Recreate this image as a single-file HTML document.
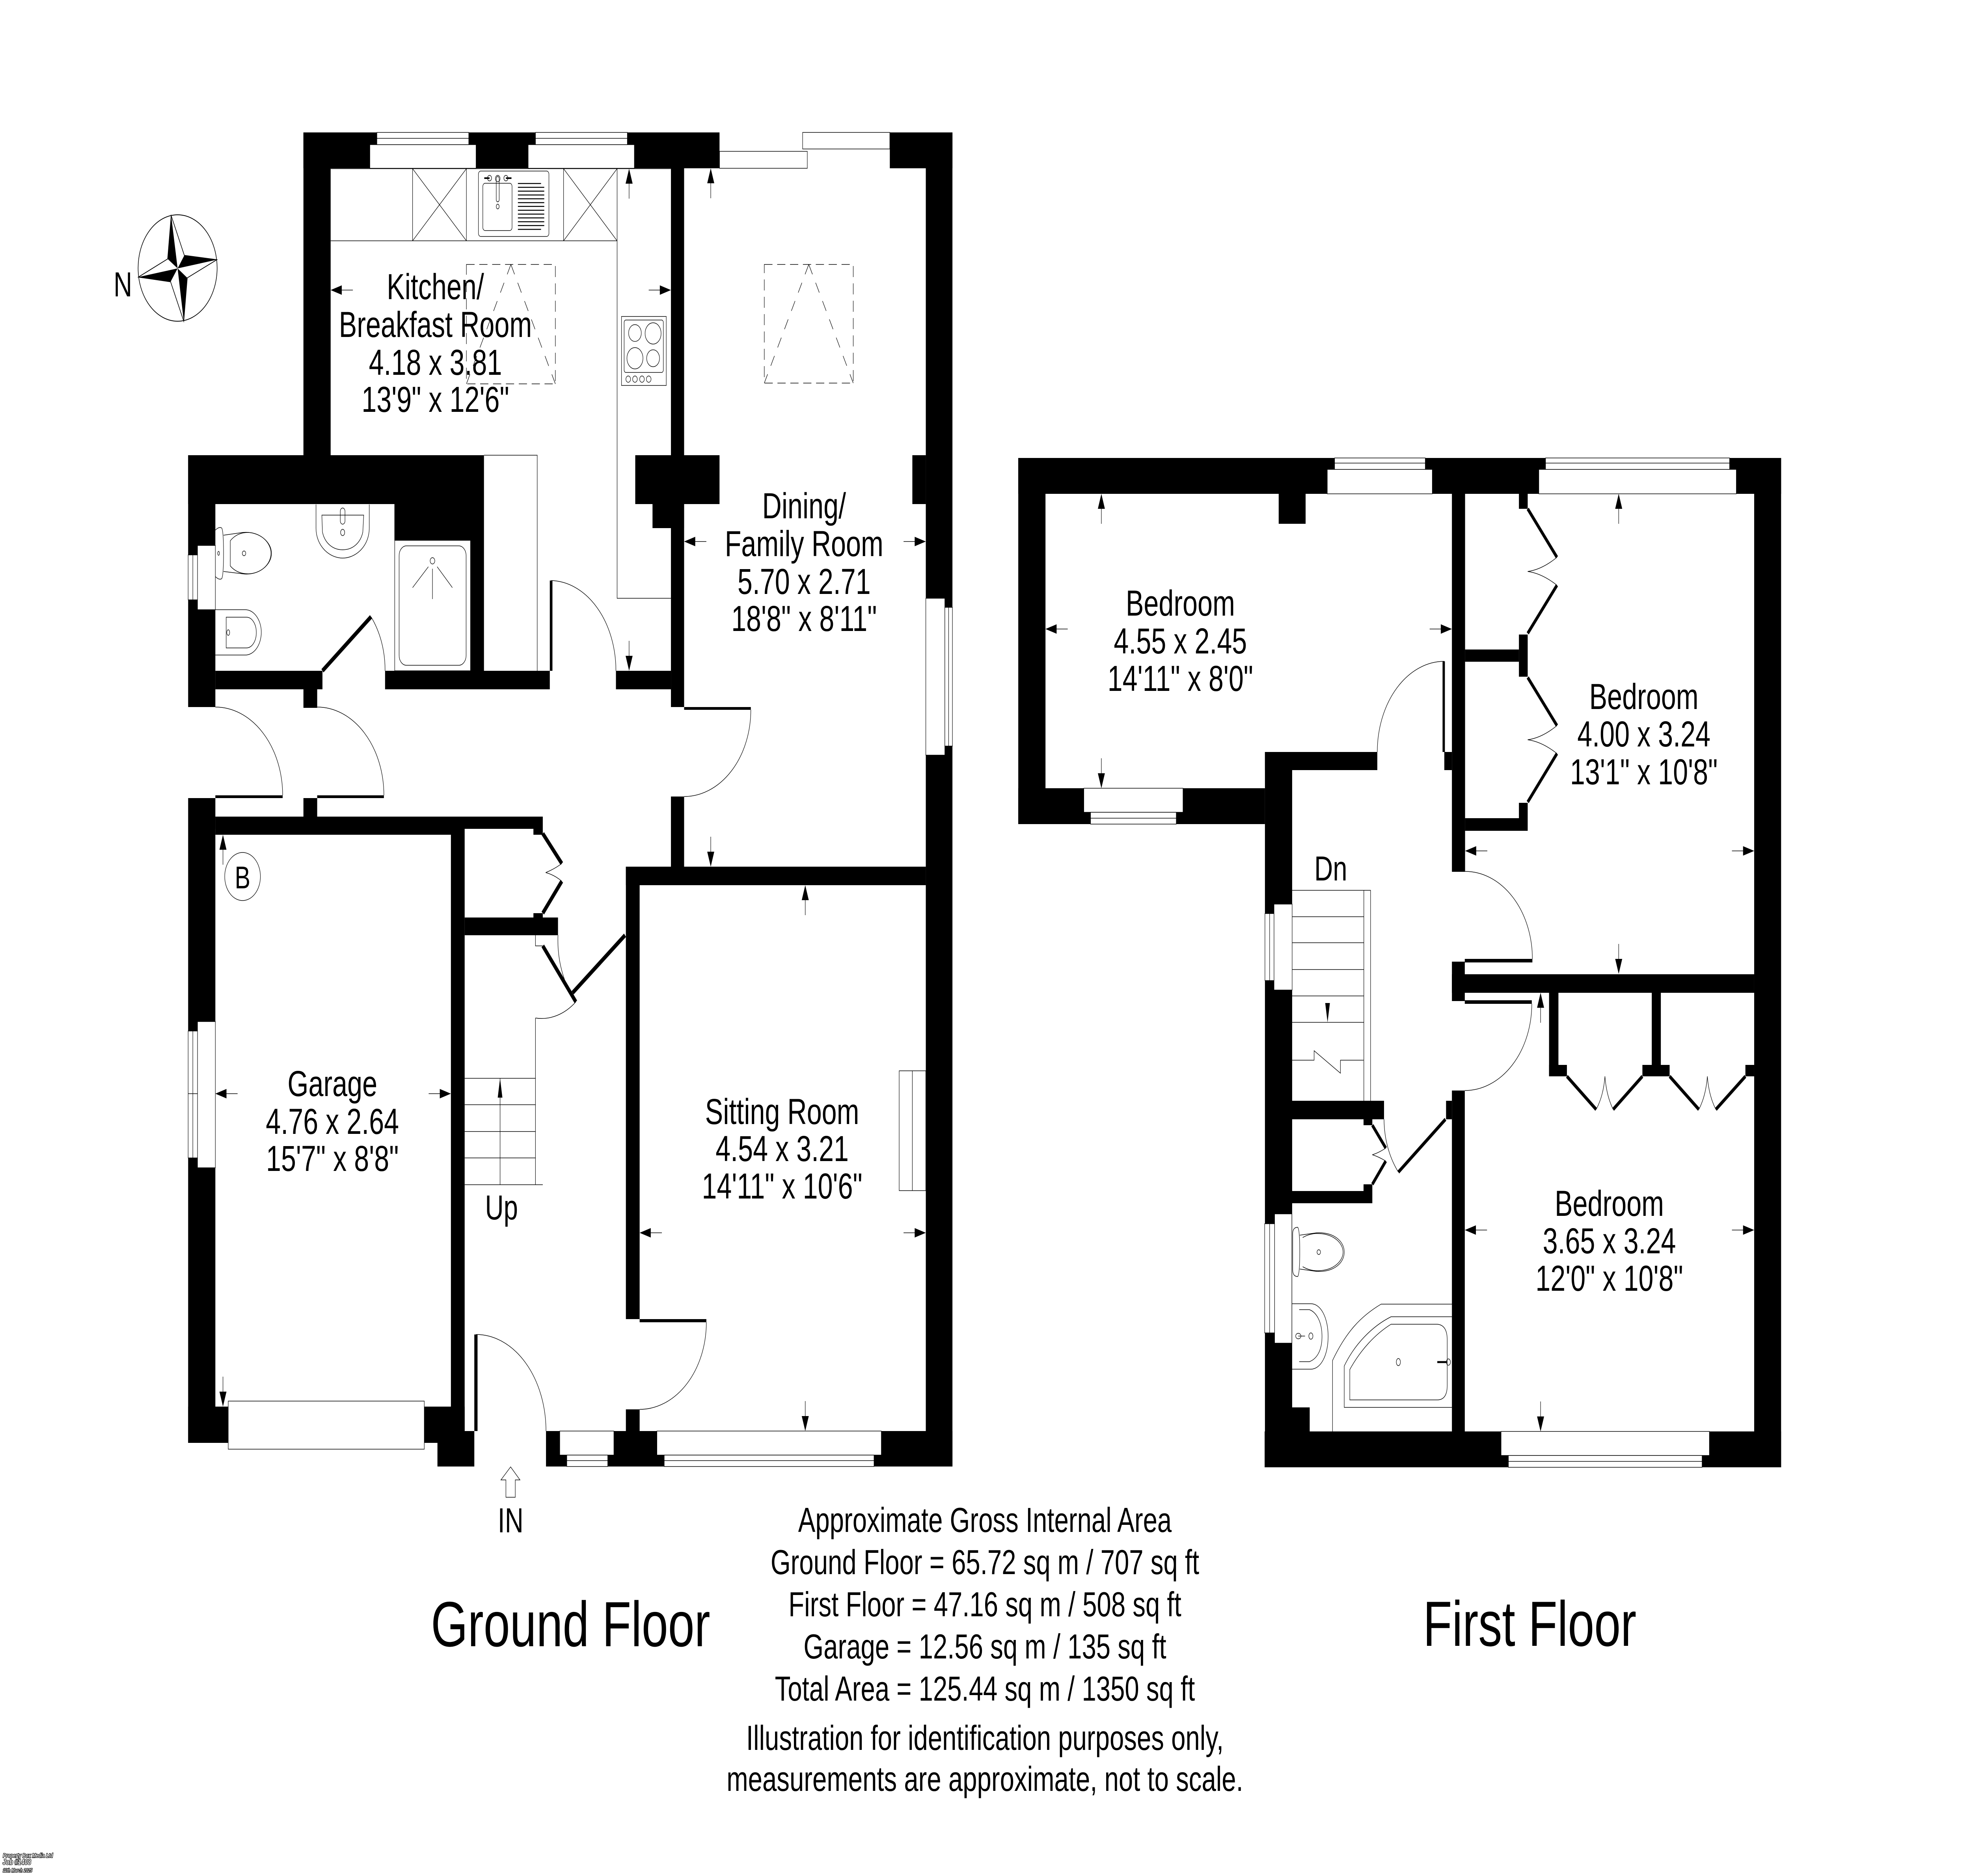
<!DOCTYPE html>
<html><head><meta charset="utf-8"><title>Floor Plan</title>
<style>html,body{margin:0;padding:0;background:#fff;width:100%;height:100%;overflow:hidden}svg{display:block;width:100vw;height:100vh}text{font-family:"Liberation Sans",Arial,sans-serif;fill:#000}</style></head>
<body>
<svg xmlns="http://www.w3.org/2000/svg" viewBox="0 0 6736 4760" preserveAspectRatio="none">
<defs>
<g id="a"><line x1="-76" y1="0" x2="-30" y2="0" stroke="#000" stroke-width="1.5"/><polygon points="0,0 -38,-12 -38,12" fill="#000"/></g>
</defs>
<rect width="6736" height="4760" fill="#fff"/>

<!-- GROUND FLOOR WALLS -->
<g fill="#000">
<rect x="1037" y="336" width="1422" height="91"/>
<rect x="1037" y="336" width="93" height="819"/>
<rect x="2293" y="427" width="45" height="728"/>
<rect x="2171" y="1155" width="288" height="124"/>
<rect x="2230" y="1279" width="108" height="61"/>
<rect x="2293" y="1279" width="45" height="515"/>
<rect x="3164" y="336" width="91" height="3385"/>
<rect x="3041" y="336" width="214" height="91"/>
<rect x="3118" y="1155" width="46" height="124"/>
<rect x="643" y="1155" width="1011" height="124"/>
<rect x="643" y="1155" width="93" height="639"/>
<rect x="1348" y="1279" width="306" height="92"/>
<rect x="1608" y="1371" width="46" height="331"/>
<rect x="736" y="1702" width="366" height="47"/>
<rect x="1316" y="1702" width="563" height="47"/>
<rect x="2105" y="1702" width="188" height="47"/>
<rect x="1037" y="1749" width="47" height="47"/>
<rect x="2293" y="2021" width="45" height="178"/>
<rect x="643" y="2025" width="93" height="1636"/>
<rect x="1037" y="2025" width="47" height="47"/>
<rect x="736" y="2072" width="1119" height="31"/>
<rect x="736" y="2072" width="852" height="46"/>
<rect x="1823" y="2103" width="32" height="15"/>
<rect x="1541" y="2118" width="47" height="1512"/>
<rect x="1588" y="2328" width="319" height="45"/>
<rect x="1823" y="2317" width="32" height="11"/>
<rect x="643" y="3569" width="137" height="92"/>
<rect x="1450" y="3569" width="138" height="92"/>
<rect x="1495" y="3631" width="126" height="90"/>
<rect x="1866" y="3631" width="1389" height="90"/>
<rect x="2139" y="2199" width="47" height="1148"/>
<rect x="2139" y="3576" width="47" height="55"/>
<rect x="2139" y="2199" width="1025" height="47"/>
<!-- door blades as rects -->
<rect x="2338" y="1794" width="228" height="7"/>
<rect x="736" y="2018" width="230" height="7"/>
<rect x="1084" y="2018" width="228" height="7"/>
<rect x="1879" y="1473" width="9" height="229"/>
<rect x="2186" y="3347" width="228" height="8"/>
<rect x="1621" y="3386" width="11" height="245"/>
</g>
<g stroke="#000" stroke-width="11" fill="none">
<line x1="1102" y1="1702" x2="1268" y2="1565"/>
<line x1="2136" y1="2373" x2="1957" y2="2519"/>
<line x1="1855" y1="2400" x2="1968" y2="2542"/>
<line x1="1855" y1="2115" x2="1920" y2="2191"/>
<line x1="1920" y1="2236" x2="1855" y2="2317"/>
</g>

<!-- GROUND WINDOWS -->
<g fill="#fff" stroke="#000" stroke-width="1.5">
<rect x="1264" y="367" width="363" height="60"/><rect x="1288" y="336" width="314" height="31"/><line x1="1288" y1="351" x2="1602" y2="351"/>
<rect x="1805" y="367" width="363" height="60"/><rect x="1830" y="336" width="314" height="31"/><line x1="1830" y1="351" x2="2144" y2="351"/>
<rect x="2459" y="384" width="300" height="43"/><rect x="2743" y="336" width="298" height="42"/>
<rect x="3164" y="1518" width="65" height="398"/><rect x="3229" y="1541" width="26" height="352"/><line x1="3242" y1="1541" x2="3242" y2="1893"/>
<rect x="675" y="1384" width="61" height="163"/><rect x="643" y="1408" width="32" height="114"/><line x1="659" y1="1408" x2="659" y2="1522"/>
<rect x="675" y="2592" width="61" height="371"/><rect x="643" y="2616" width="32" height="322"/><line x1="659" y1="2616" x2="659" y2="2938"/><line x1="643" y1="2775" x2="675" y2="2775"/>
<rect x="780" y="3555" width="670" height="122"/>
<rect x="1913" y="3631" width="185" height="61"/><rect x="1937" y="3692" width="140" height="29"/><line x1="1937" y1="3706" x2="2077" y2="3706"/>
<rect x="2245" y="3631" width="767" height="61"/><rect x="2270" y="3692" width="717" height="29"/><line x1="2270" y1="3706" x2="2987" y2="3706"/>
</g>

<!-- KITCHEN FIXTURES -->
<g fill="none" stroke="#000" stroke-width="1.5">
<path d="M1130,428H2293M1130,611H2109M2109,428V1518H2293"/>
<path d="M1410,428V611M1594,428V611M1926,428V611M1410,428L1594,611M1594,428L1410,611M1926,428L2109,611M2109,428L1926,611"/>
<rect x="1635" y="434" width="241" height="166" rx="8"/>
<rect x="1650" y="465" width="100" height="120" rx="8"/>
<rect x="1696" y="448" width="10" height="64" rx="5"/>
<circle cx="1701" cy="453" r="8"/><ellipse cx="1701" cy="524" rx="5" ry="6"/>
<circle cx="1673" cy="452" r="7"/><circle cx="1729" cy="452" r="7"/>
<path d="M1655,452H1673M1729,452H1748" stroke-width="4"/>
<path d="M1770,465.6H1849M1770,475.3H1860M1770,485H1860M1770,494.7H1860M1770,504.4H1860M1770,514.1H1860M1770,523.8H1860M1770,533.5H1860M1770,543.2H1860M1770,552.9H1860M1770,562.6H1860M1770,572.3H1860M1770,582H1849" stroke-width="2.5"/>
<rect x="2124" y="803" width="153" height="175"/>
<rect x="2133" y="812" width="134" height="133" rx="6"/>
<ellipse cx="2170" cy="845" rx="21.7" ry="21.4"/><ellipse cx="2232" cy="846" rx="27.4" ry="27"/>
<ellipse cx="2170" cy="909" rx="27.4" ry="27"/><ellipse cx="2232" cy="909" rx="22" ry="21.5"/>
<circle cx="2147" cy="962" r="8"/><circle cx="2170" cy="962" r="8"/><circle cx="2194" cy="962" r="8"/><circle cx="2217" cy="962" r="8"/>
<path d="M1654,1155H1836V1702"/>
</g>
<g fill="none" stroke="#000" stroke-width="1.5">
<rect x="1594" y="671" width="304" height="303" stroke-dasharray="28 16"/>
<path d="M1746,671L1594,974M1746,671L1898,974" stroke-dasharray="28 24"/>
<rect x="2612" y="671" width="304" height="301" stroke-dasharray="28 16"/>
<path d="M2764,671L2612,972M2764,671L2916,972" stroke-dasharray="28 24"/>
</g>

<!-- WC FIXTURES -->
<g fill="none" stroke="#000" stroke-width="1.5">
<path d="M736,1345Q750,1335 758,1340Q764,1350 764,1404Q764,1458 758,1468Q750,1473 736,1463"/>
<path d="M764,1358L830,1351C885,1347 928,1375 928,1404C928,1433 885,1461 830,1456L764,1450"/>
<path d="M787,1372Q810,1351 848,1351C895,1353 926,1378 926,1404C926,1430 895,1455 848,1456Q810,1456 787,1436Z"/>
<ellipse cx="834" cy="1404" rx="6" ry="6"/><ellipse cx="747" cy="1404" rx="3" ry="5"/>
<path d="M1080,1280V1340C1080,1385 1125,1416 1171,1416C1217,1416 1262,1385 1262,1340V1280"/>
<path d="M1100,1307H1243L1240,1350C1232,1378 1205,1395 1171,1395C1137,1395 1110,1378 1102,1350Z"/>
<rect x="1163" y="1289" width="16" height="41" rx="8"/><ellipse cx="1171" cy="1351" rx="7" ry="8"/>
<rect x="1349" y="1371" width="259" height="331"/>
<rect x="1364" y="1385" width="229" height="303" rx="25"/>
<ellipse cx="1478" cy="1423" rx="8" ry="8"/>
<path d="M1464,1438L1410,1491M1478,1443V1520M1494,1438L1546,1491"/>
<path d="M736,1547H838C870,1547 893,1575 893,1604C893,1635 870,1662 838,1662H736"/>
<path d="M773,1566H842C862,1566 876,1584 876,1605C876,1626 862,1644 842,1644H773Z"/>
<ellipse cx="780" cy="1605" rx="5" ry="7"/>
</g>

<!-- DOOR ARCS & STAIRS GROUND -->
<g fill="none" stroke="#000" stroke-width="1.5">
<path d="M1884,1473A226,229 0 0 1 2105,1702"/>
<path d="M2566,1801A228,220 0 0 1 2338,2021"/>
<path d="M736,1794A230,224 0 0 1 966,2018"/>
<path d="M1084,1794A228,224 0 0 1 1312,2018"/>
<path d="M1268,1565A214,214 0 0 1 1316,1702"/>
<path d="M2414,3355A228,221 0 0 1 2186,3576"/>
<path d="M1627,3386A239,245 0 0 1 1866,3631"/>
<path d="M1907,2373A229,229 0 0 0 1968,2542"/>
<path d="M1968,2542A183,183 0 0 1 1830,2583"/>
<path d="M1830,2373V2400H1855"/>
<path d="M1830,2583V3006"/>
<path d="M1588,2736H1830M1588,2803H1830M1588,2871H1830M1588,2938H1830M1588,3006H1855"/>
<path d="M1709,3006V2736"/>
<path d="M1920,2191Q1895,2205 1865,2214Q1895,2220 1920,2236"/>
<rect x="3073" y="2717" width="91" height="304"/><line x1="3118" y1="2717" x2="3118" y2="3021"/>
<ellipse cx="829" cy="2224" rx="61" ry="61"/>
<polygon points="1745,3722 1712,3755 1729,3755 1729,3799 1761,3799 1761,3755 1777,3755"/>
</g>
<polygon points="1709,2736 1701,2785 1717,2785" fill="#000"/>

<!-- COMPASS -->
<circle cx="607" cy="680" r="135" fill="none" stroke="#000" stroke-width="2"/>
<path d="M585,547L630,648L741,659L640,705L628,815L583,715L473,703L573,657Z" fill="#fff" stroke="#000" stroke-width="2"/>
<g fill="#000">
<polygon points="585,547 573,657 607,681"/>
<polygon points="741,659 630,648 607,681"/>
<polygon points="628,815 640,705 607,681"/>
<polygon points="473,703 583,715 607,681"/>
</g>

<!-- FIRST FLOOR WALLS -->
<g fill="#000">
<rect x="3480" y="1162" width="2607" height="91"/>
<rect x="3480" y="1162" width="93" height="929"/>
<rect x="3480" y="2000" width="843" height="91"/>
<rect x="4370" y="1253" width="92" height="76"/>
<rect x="4323" y="1908" width="384" height="46"/>
<rect x="4323" y="1908" width="93" height="1815"/>
<rect x="4962" y="1253" width="45" height="959"/>
<rect x="4936" y="1908" width="26" height="46"/>
<rect x="4930" y="1678" width="8" height="230"/>
<rect x="5191" y="1253" width="30" height="38"/>
<rect x="5191" y="1610" width="30" height="107"/>
<rect x="5007" y="1648" width="184" height="31"/>
<rect x="5191" y="2037" width="30" height="39"/>
<rect x="5007" y="2076" width="214" height="32"/>
<rect x="5995" y="1162" width="92" height="2561"/>
<rect x="4962" y="2440" width="44" height="100"/>
<rect x="5006" y="2433" width="231" height="9"/>
<rect x="5006" y="2538" width="229" height="9"/>
<rect x="4962" y="2472" width="1033" height="47"/>
<rect x="5294" y="2519" width="32" height="212"/>
<rect x="5645" y="2519" width="31" height="212"/>
<rect x="5294" y="2702" width="61" height="29"/>
<rect x="5613" y="2702" width="93" height="29"/>
<rect x="5965" y="2702" width="30" height="29"/>
<rect x="4962" y="2767" width="44" height="865"/>
<rect x="4942" y="2793" width="20" height="47"/>
<rect x="4415" y="2793" width="315" height="47"/>
<rect x="4660" y="2840" width="30" height="15"/>
<rect x="4660" y="3005" width="30" height="17"/>
<rect x="4415" y="3022" width="275" height="31"/>
<rect x="4322" y="3632" width="1765" height="91"/>
<rect x="4415" y="3571" width="61" height="61"/>
</g>
<g stroke="#000" stroke-width="9" fill="none">
<line x1="5221" y1="1291" x2="5321" y2="1414"/><line x1="5321" y1="1485" x2="5221" y2="1607"/>
<line x1="5221" y1="1719" x2="5321" y2="1841"/><line x1="5321" y1="1912" x2="5221" y2="2035"/>
<line x1="5355" y1="2731" x2="5455" y2="2815"/><line x1="5513" y1="2815" x2="5613" y2="2731"/>
<line x1="5706" y1="2731" x2="5806" y2="2815"/><line x1="5864" y1="2815" x2="5965" y2="2731"/>
<line x1="4690" y1="2855" x2="4736" y2="2913"/><line x1="4736" y1="2946" x2="4690" y2="3005"/>
<line x1="4940" y1="2840" x2="4779" y2="2974"/>
</g>

<!-- FIRST WINDOWS -->
<g fill="#fff" stroke="#000" stroke-width="1.5">
<rect x="4536" y="1191" width="359" height="62"/><rect x="4561" y="1162" width="310" height="29"/><line x1="4561" y1="1175" x2="4871" y2="1175"/>
<rect x="5259" y="1191" width="675" height="62"/><rect x="5282" y="1162" width="629" height="29"/><line x1="5282" y1="1175" x2="5911" y2="1175"/>
<rect x="3704" y="2000" width="339" height="61"/><rect x="3727" y="2061" width="293" height="30"/><line x1="3727" y1="2076" x2="4020" y2="2076"/>
<rect x="4354" y="2294" width="62" height="218"/><rect x="4323" y="2318" width="31" height="170"/><line x1="4339" y1="2318" x2="4339" y2="2488"/>
<rect x="4356" y="3080" width="59" height="328"/><rect x="4322" y="3105" width="34" height="277"/><line x1="4339" y1="3105" x2="4339" y2="3382"/>
<rect x="5130" y="3632" width="712" height="61"/><rect x="5155" y="3693" width="662" height="30"/><line x1="5155" y1="3708" x2="5817" y2="3708"/>
</g>

<!-- FIRST FIXTURES -->
<g fill="none" stroke="#000" stroke-width="1.5">
<path d="M4936,1678A229,230 0 0 0 4707,1908"/>
<path d="M5007,2211A230,222 0 0 1 5237,2433"/>
<path d="M5235,2547A229,220 0 0 1 5006,2767"/>
<path d="M4779,2974A212,212 0 0 1 4730,2840"/>
<path d="M5321,1414Q5270,1445 5221,1450Q5270,1455 5321,1485"/>
<path d="M5321,1841Q5270,1872 5221,1877Q5270,1882 5321,1912"/>
<path d="M5455,2815Q5480,2780 5485,2731Q5490,2780 5513,2815"/>
<path d="M5806,2815Q5830,2780 5835,2731Q5840,2780 5864,2815"/>
<path d="M4736,2913Q4712,2925 4690,2930Q4712,2935 4736,2946"/>
<!-- stairs -->
<path d="M4416,2259H4684V2793M4661,2259V2793"/>
<path d="M4416,2326H4661M4416,2392H4661M4416,2460H4661M4416,2527H4661M4416,2594H4661"/>
<path d="M4416,2690H4491V2666L4581,2723V2690H4660"/>
<!-- toilet -->
<path d="M4418,3130Q4418,3114 4435,3114Q4442,3120 4442,3176Q4442,3232 4435,3239Q4418,3239 4418,3222Z"/>
<path d="M4442,3134L4500,3128C4560,3126 4594,3150 4594,3177C4594,3204 4560,3228 4500,3226L4442,3220"/>
<path d="M4452,3140Q4480,3128 4510,3130C4560,3132 4590,3155 4590,3177C4590,3199 4560,3222 4510,3224Q4480,3226 4452,3214"/>
<circle cx="4507" cy="3177" r="6"/>
<!-- basin -->
<path d="M4415,3308H4480C4515,3308 4539,3345 4539,3391C4539,3437 4515,3474 4480,3474H4415"/>
<path d="M4440,3323H4475C4500,3330 4518,3355 4518,3391C4518,3427 4500,3448 4475,3455H4440"/>
<ellipse cx="4480" cy="3390" rx="7" ry="8"/><ellipse cx="4437" cy="3390" rx="9" ry="7"/><path d="M4437,3390H4460"/>
<!-- bath -->
<path d="M4554,3632V3452C4600,3380 4650,3340 4720,3309H4962"/>
<path d="M4962,3571H4594V3466C4630,3410 4690,3365 4754,3341H4962"/>
<path d="M4613,3552V3475C4650,3425 4700,3385 4754,3360H4912Q4946,3362 4946,3400V3515Q4946,3552 4912,3552Z"/>
<ellipse cx="4779" cy="3456" rx="7" ry="9"/><ellipse cx="4950" cy="3456" rx="7" ry="8"/><path d="M4912,3456H4945" stroke-width="5"/>
</g>
<polygon points="4537,2594 4529,2545 4545,2545" fill="#000"/>

<!-- DIMENSION ARROWS -->
<use href="#a" transform="translate(1130,736) rotate(180)"/>
<use href="#a" transform="translate(2293,736)"/>
<use href="#a" transform="translate(2150,428) rotate(-90)"/>
<use href="#a" transform="translate(2150,1702) rotate(90)"/>
<use href="#a" transform="translate(2429,427) rotate(-90)"/>
<use href="#a" transform="translate(2429,2199) rotate(90)"/>
<use href="#a" transform="translate(2338,1374) rotate(180)"/>
<use href="#a" transform="translate(3164,1374)"/>
<use href="#a" transform="translate(736,2775) rotate(180)"/>
<use href="#a" transform="translate(1541,2775)"/>
<use href="#a" transform="translate(762,2118) rotate(-90)"/>
<use href="#a" transform="translate(762,3569) rotate(90)"/>
<use href="#a" transform="translate(2752,2246) rotate(-90)"/>
<use href="#a" transform="translate(2752,3631) rotate(90)"/>
<use href="#a" transform="translate(2186,3128) rotate(180)"/>
<use href="#a" transform="translate(3164,3128)"/>
<use href="#a" transform="translate(3764,1253) rotate(-90)"/>
<use href="#a" transform="translate(3764,2000) rotate(90)"/>
<use href="#a" transform="translate(3573,1596) rotate(180)"/>
<use href="#a" transform="translate(4962,1596)"/>
<use href="#a" transform="translate(5532,1253) rotate(-90)"/>
<use href="#a" transform="translate(5532,2471) rotate(90)"/>
<use href="#a" transform="translate(5007,2159) rotate(180)"/>
<use href="#a" transform="translate(5995,2159)"/>
<use href="#a" transform="translate(5265,2519) rotate(-90)"/>
<use href="#a" transform="translate(5265,3632) rotate(90)"/>
<use href="#a" transform="translate(5006,3121) rotate(180)"/>
<use href="#a" transform="translate(5995,3121)"/>

<!-- TEXT -->
<g font-size="92" text-anchor="middle">
<text x="1488" y="759">Kitchen/</text>
<text x="1488" y="855">Breakfast Room</text>
<text x="1488" y="951">4.18 x 3.81</text>
<text x="1488" y="1045">13'9" x 12'6"</text>
<text x="2748" y="1315">Dining/</text>
<text x="2748" y="1411">Family Room</text>
<text x="2748" y="1507">5.70 x 2.71</text>
<text x="2748" y="1601">18'8" x 8'11"</text>
<text x="1136" y="2781">Garage</text>
<text x="1136" y="2877">4.76 x 2.64</text>
<text x="1136" y="2971">15'7" x 8'8"</text>
<text x="2673" y="2852">Sitting Room</text>
<text x="2673" y="2946">4.54 x 3.21</text>
<text x="2673" y="3041">14'11" x 10'6"</text>
<text x="4034" y="1562">Bedroom</text>
<text x="4034" y="1658">4.55 x 2.45</text>
<text x="4034" y="1753">14'11" x 8'0"</text>
<text x="5618" y="1799">Bedroom</text>
<text x="5618" y="1894">4.00 x 3.24</text>
<text x="5618" y="1990">13'1" x 10'8"</text>
<text x="5500" y="3085">Bedroom</text>
<text x="5500" y="3180">3.65 x 3.24</text>
<text x="5500" y="3275">12'0" x 10'8"</text>
</g>
<g font-size="88" text-anchor="middle">
<text x="1714" y="3094">Up</text>
<text x="1745" y="3888">IN</text>
<text x="4548" y="2234">Dn</text>
<text x="420" y="752">N</text>
<text x="829" y="2254" font-size="80">B</text>
<text x="3366" y="3887">Approximate Gross Internal Area</text>
<text x="3366" y="3994">Ground Floor = 65.72 sq m / 707 sq ft</text>
<text x="3366" y="4101">First Floor = 47.16 sq m / 508 sq ft</text>
<text x="3366" y="4208">Garage = 12.56 sq m / 135 sq ft</text>
<text x="3366" y="4315">Total Area = 125.44 sq m / 1350 sq ft</text>
<text x="3366" y="4440">Illustration for identification purposes only,</text>
<text x="3366" y="4544">measurements are approximate, not to scale.</text>
</g>
<g font-size="162" text-anchor="middle">
<text x="1950" y="4177">Ground Floor</text>
<text x="5228" y="4176">First Floor</text>
</g>
<g font-weight="bold" font-style="italic">
<text x="10" y="4713" font-size="15" textLength="171" lengthAdjust="spacingAndGlyphs" stroke="#000" stroke-width="2.5" style="fill:#fff;paint-order:stroke">Property Box Media Ltd</text>
<text x="9" y="4731" font-size="19" textLength="97" lengthAdjust="spacingAndGlyphs" stroke="#000" stroke-width="2.5" style="fill:#fff;paint-order:stroke">Job #1408</text>
<text x="10" y="4750" font-size="13" textLength="100" lengthAdjust="spacingAndGlyphs" stroke="#000" stroke-width="2.5" style="fill:#fff;paint-order:stroke">11th March 2025</text>
</g>
</svg>
</body></html>
